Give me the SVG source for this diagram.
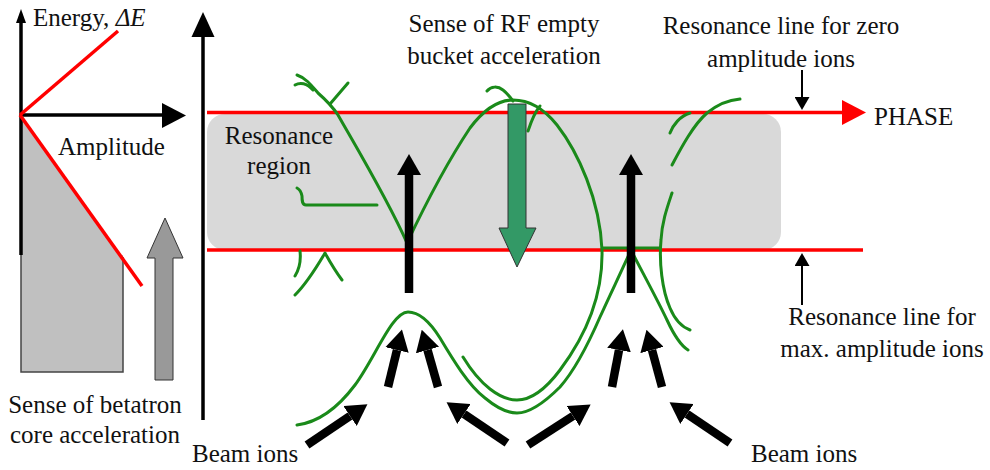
<svg xmlns="http://www.w3.org/2000/svg" width="990" height="470" viewBox="0 0 990 470">
<style>
text{font-family:"Liberation Serif","Times New Roman",serif;font-size:25px;fill:#111}
.g{fill:none;stroke:#1a8a1a;stroke-width:3;stroke-linecap:round;stroke-linejoin:round}
.red{stroke:#ff0000;stroke-width:3.5;fill:none}
.ax{stroke:#000;stroke-width:3.5;fill:none}
.thick{stroke:#000;stroke-width:8.5;fill:none}
.thin{stroke:#000;stroke-width:2;fill:none}
</style>
<defs>
<marker id="bh" viewBox="0 0 21 24" refX="0" refY="12" markerWidth="21" markerHeight="24" markerUnits="userSpaceOnUse" orient="auto">
<path d="M0,0 L21,12 L0,24 Z" fill="#000"/>
</marker>
<marker id="sh" viewBox="0 0 13 15" refX="0" refY="7.5" markerWidth="13" markerHeight="15" markerUnits="userSpaceOnUse" orient="auto">
<path d="M0,0 L13,7.5 L0,15 Z" fill="#000"/>
</marker>
</defs>

<g id="energy-amplitude-plot">
<polygon points="21,115 120,255 21,255" fill="#c0c0c0"/>
<rect x="21" y="255" width="102" height="117" fill="#c0c0c0"/>
<path d="M21,255 L21,372 L123,372 L123,257" fill="none" stroke="#444" stroke-width="1.5"/>
<line class="ax" x1="21" y1="255" x2="21" y2="22"/>
<polygon points="16,23 21,9 26,23" fill="#000"/>
<line class="ax" x1="21" y1="115" x2="163" y2="115"/>
<polygon points="162,103 186,115.5 162,128" fill="#000"/>
<line class="red" x1="20" y1="115" x2="118" y2="31"/>
<line class="red" x1="20" y1="115" x2="142" y2="286"/>
<text x="33" y="26">Energy, <tspan font-style="italic">ΔE</tspan></text>
<text x="58" y="155">Amplitude</text>
</g>

<g id="betatron-arrow">
<polygon points="155,380 173,380 173,258 183,258 165,218 147,258 155,258" fill="#999" stroke="#333" stroke-width="1"/>
<text x="95" y="413" text-anchor="middle">Sense of betatron</text>
<text x="95" y="443" text-anchor="middle">core acceleration</text>
</g>

<g id="main-axis">
<line class="ax" x1="203" y1="420" x2="203" y2="35"/>
<polygon points="191.5,37 203,12 214.5,37" fill="#000"/>
</g>

<g id="resonance-region">
<rect x="207" y="114" width="574" height="136" rx="18" ry="18" fill="#d9d9d9"/>
<text x="279" y="144" text-anchor="middle">Resonance</text>
<text x="279" y="174" text-anchor="middle">region</text>
</g>

<g id="resonance-lines">
<line class="red" x1="207" y1="112.5" x2="844" y2="112.5"/>
<polygon points="842,100 866,112.5 842,125" fill="#ff0000"/>
<line class="red" x1="207" y1="250" x2="863" y2="250"/>
<text x="874" y="125">PHASE</text>
</g>

<g id="trajectories">
<path class="g" d="M297,75 C306,78 312,86 318,93 C326,100 332,106 338,115 C355,145 388,200 407,243"/>
<path class="g" d="M295,85 C300,82 307,83 313,90"/>
<path class="g" d="M348,83 C342,90 336,97 330,104"/>
<path class="g" d="M377,205 L306,205 C302,205 302,200 302,196 C301,191 299,189 297,188"/>
<path class="g" d="M300,251 C301,260 300,268 295,276"/>
<path class="g" d="M295,295 C305,285 315,270 325,253 C330,262 336,272 342,280"/>
<path class="g" d="M407,243 C425,205 450,158 470,128 C485,108 500,100 513,100 C530,100 545,110 557,125 C578,152 600,200 602,250 C603,290 590,330 560,370 C545,390 530,400 517,400 C500,400 480,385 463,357"/>
<path class="g" d="M487,91 C491,86 498,86 503,90 C507,93 510,97 513,101"/>
<path class="g" d="M528,131 C531,122 534,113 540,106"/>
<path class="g" d="M297,425 C320,422 340,405 355,385 C375,358 392,312 408,312 C420,312 430,322 440,338 C452,358 468,385 485,398 C497,408 507,413 517,413 C530,413 545,402 560,387 C575,370 590,340 600,317 C610,295 622,270 631,250"/>
<path class="g" d="M631,250 C640,268 655,295 667,320 C673,333 680,345 688,350"/>
<path class="g" d="M603,248 L660,248"/>
<path class="g" d="M672,193 C667,208 662,222 661,240 C659,262 662,290 670,308 C675,320 682,327 690,330"/>
<path class="g" d="M672,165 C680,150 693,125 707,113 C718,104 728,100 740,99"/>
<path class="g" d="M670,133 C673,125 680,116 690,113"/>
</g>

<g id="rf-arrow">
<polygon points="508,104 526,104 526,228 536,228 517,267 499,228 508,228" fill="#339966" stroke="#333" stroke-width="1"/>
<text x="504" y="32" text-anchor="middle">Sense of RF empty</text>
<text x="504" y="64" text-anchor="middle">bucket acceleration</text>
</g>

<g id="zero-amp-label">
<text x="781" y="34" text-anchor="middle">Resonance line for zero</text>
<text x="781" y="67" text-anchor="middle">amplitude ions</text>
</g>

<g id="max-amp-label">
<text x="882" y="325" text-anchor="middle">Resonance line for</text>
<text x="882" y="357" text-anchor="middle">max. amplitude ions</text>
</g>

<g id="beam-ions-left">
<text x="192" y="462">Beam ions</text>
</g>
<g id="beam-ions-right">
<text x="751" y="462">Beam ions</text>
</g>

<g id="connectors">
<line class="thin" x1="802" y1="70" x2="802" y2="97" marker-end="url(#sh)"/>
<line class="thin" x1="802" y1="305" x2="802" y2="266" marker-end="url(#sh)"/>
<line class="thick" x1="409" y1="293" x2="409" y2="175" marker-end="url(#bh)"/>
<line class="thick" x1="631" y1="293" x2="631" y2="175" marker-end="url(#bh)"/>
<line class="thick" x1="307" y1="445" x2="350" y2="416" marker-end="url(#bh)"/>
<line class="thick" x1="388" y1="387" x2="397" y2="350" marker-end="url(#bh)"/>
<line class="thick" x1="438" y1="387" x2="427.5" y2="350" marker-end="url(#bh)"/>
<line class="thick" x1="507" y1="443" x2="464" y2="414" marker-end="url(#bh)"/>
<line class="thick" x1="528" y1="445" x2="573" y2="416" marker-end="url(#bh)"/>
<line class="thick" x1="612" y1="387" x2="619" y2="350" marker-end="url(#bh)"/>
<line class="thick" x1="662" y1="387" x2="652" y2="350" marker-end="url(#bh)"/>
<line class="thick" x1="730" y1="443" x2="687" y2="414" marker-end="url(#bh)"/>
</g>
</svg>
